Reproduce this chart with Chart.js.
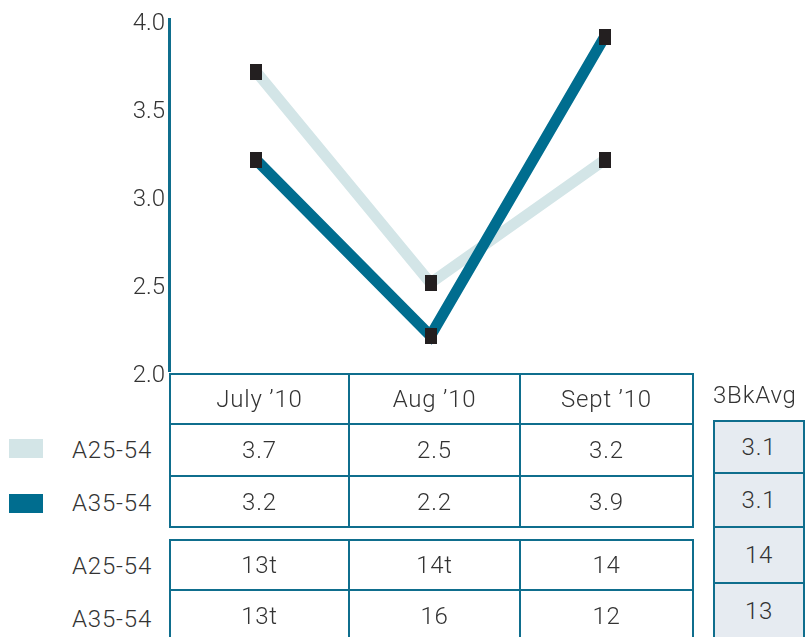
<!DOCTYPE html>
<html>
<head>
<meta charset="utf-8">
<script src="https://cdn.jsdelivr.net/npm/chart.js@4.4.0/dist/chart.umd.min.js"></script>
<style>
  body { margin: 0; width: 805px; height: 637px; overflow: hidden; background: #fff;
         font-family: Roboto, "Liberation Sans", sans-serif; font-weight: 300; color: #333; }
  #wrap { position: absolute; left: 0; top: 0; width: 805px; height: 390px; }
  table { position: absolute; border-collapse: collapse; table-layout: fixed; }
  td { border: 2.5px solid #0f6e8d; text-align: center; vertical-align: middle;
       font-size: 24px; letter-spacing: 0.8px; padding: 0; }
  .avg td { background: #e6ebf1; }
  .lab { position: absolute; width: 152px; text-align: right; font-size: 24px; line-height: 28px;
         letter-spacing: 0.8px; }
  .sw { position: absolute; left: 9px; width: 34px; height: 19px; }
</style>
</head>
<body>
<div id="wrap"><canvas id="grafico"></canvas></div>
<div id="extras"></div>
<script>
// dados do gráfico
const categorias = ['July \u201910', 'Aug \u201910', 'Sept \u201910'];
const series = ['A25-54', 'A35-54'];
const valoresA2554 = [3.7, 2.5, 3.2];
const valoresA3554 = [3.2, 2.2, 3.9];
const tabela2A2554 = ['13t', '14t', '14'];
const tabela2A3554 = ['13t', '16', '12'];
const mediaTitulo = '3BkAvg';
const mediaValores = ['3.1', '3.1', '14', '13'];

const corClara = '#d3e5e7';
const corEscura = '#006d8f';

// marcador retangular preto
const marcador = document.createElement('canvas');
marcador.width = 12; marcador.height = 16;
const mctx = marcador.getContext('2d');
mctx.fillStyle = '#231f20';
mctx.fillRect(0, 0, 12, 16);

const ctx = document.getElementById('grafico').getContext('2d');
const chart = new Chart(ctx, {
    type: 'line',
    data: {
        labels: categorias,
        datasets: [
            { label: series[1], data: valoresA3554, borderColor: corEscura, borderWidth: 11,
              pointStyle: marcador, pointRadius: 8, pointHoverRadius: 8, borderCapStyle: 'butt' },
            { label: series[0], data: valoresA2554, borderColor: corClara, borderWidth: 11,
              pointStyle: marcador, pointRadius: 8, pointHoverRadius: 8, borderCapStyle: 'butt' }
        ]
    },
    options: {
        responsive: true,
        maintainAspectRatio: false,
        animation: false,
        layout: { padding: { left: 0, right: 113, top: 16, bottom: 17 } },
        plugins: { legend: { display: false }, tooltip: { enabled: false } },
        scales: {
            x: { display: false, offset: true },
            y: {
                min: 2, max: 4,
                grid: { display: false, drawTicks: false },
                border: { color: '#0f6e8d', width: 3 },
                ticks: { stepSize: 0.5, padding: 4, color: '#333', labelOffset: 5,
                         font: { family: 'Roboto', weight: 300, size: 24 },
                         callback: v => v.toFixed(1) },
                afterFit: s => { s.width = 169; }
            }
        }
    }
});

// tabelas abaixo do gráfico
function montarTabela(linhas, left, top, larguras, alturas, classe) {
    let html = `<table class="${classe || ''}" style="left:${left}px;top:${top}px;">`;
    html += '<colgroup>' + larguras.map(w => `<col style="width:${w}px">`).join('') + '</colgroup>';
    linhas.forEach((linha, i) => {
        html += `<tr style="height:${alturas[i]}px">` + linha.map(c => `<td>${c}</td>`).join('') + '</tr>';
    });
    return html + '</table>';
}

const extras = document.getElementById('extras');
let html = '';
html += montarTabela([categorias, valoresA2554.map(v => v.toFixed(1)), valoresA3554.map(v => v.toFixed(1))],
    169, 373, [179, 171, 173], [50, 52, 51]);
html += montarTabela([tabela2A2554, tabela2A3554], 169, 539, [179, 171, 173], [50, 52]);
html += montarTabela(mediaValores.map(v => [v]), 713, 420, [100], [52, 54, 56, 56], 'avg');
html += `<div class="lab" style="left:713px;top:381px;text-align:left">${mediaTitulo}</div>`;
html += `<div class="sw" style="top:439px;background:${corClara}"></div>`;
html += `<div class="sw" style="top:494px;background:${corEscura}"></div>`;
[[series[0], 436], [series[1], 489], [series[0], 552], [series[1], 605]].forEach(([t, y]) => {
    html += `<div class="lab" style="left:0;top:${y}px">${t}</div>`;
});
extras.innerHTML = html;
</script>
</body>
</html>
